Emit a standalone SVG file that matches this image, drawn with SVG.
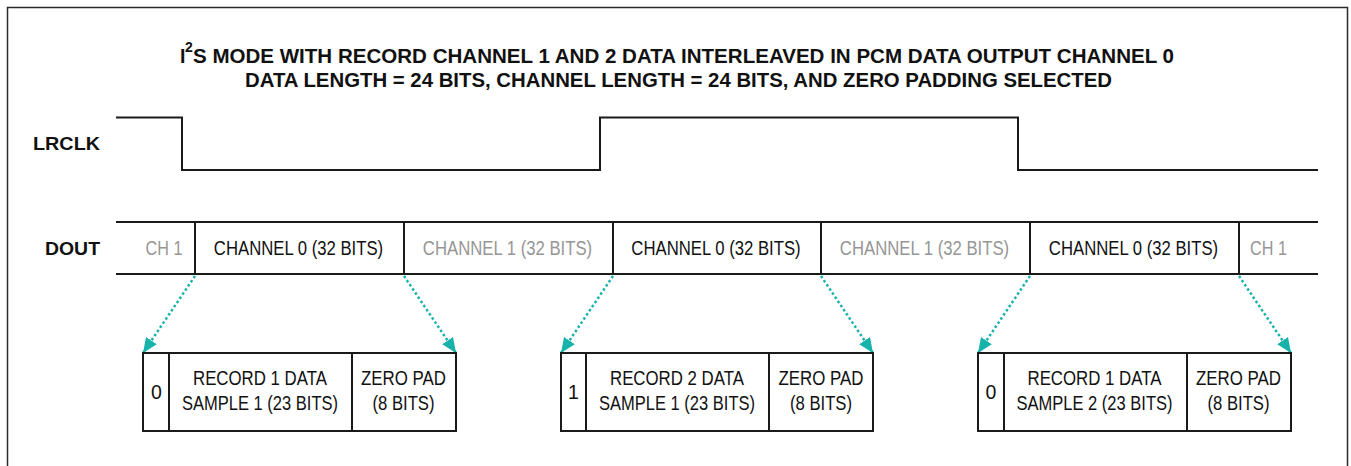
<svg xmlns="http://www.w3.org/2000/svg" width="1351" height="466" viewBox="0 0 1351 466">
<style>
.title{font-family:"Liberation Sans",Arial,sans-serif;font-weight:bold;font-size:19.5px;fill:#111}
.sig{font-family:"Liberation Sans",Arial,sans-serif;font-weight:bold;font-size:19px;fill:#111}
.t{font-family:"Liberation Sans",Arial,sans-serif;font-size:21px;fill:#111;text-anchor:middle}
.g{fill:#969696}
.b{font-family:"Liberation Sans",Arial,sans-serif;font-size:19.5px;fill:#111;text-anchor:middle}
.wave{fill:none;stroke:#1a1a1a;stroke-width:2}
.box{fill:#fff;stroke:#1a1a1a;stroke-width:2}
.arr{fill:none;stroke:#17b3aa;stroke-width:2.5;stroke-dasharray:2.5 2.5;marker-end:url(#ah)}
</style>
<defs>
<marker id="ah" markerUnits="userSpaceOnUse" markerWidth="16" markerHeight="14" refX="15" refY="6.5" orient="auto">
<path d="M0,0 L15,6.5 L0,13 Z" fill="#17b3aa"/>
</marker>
</defs>
<rect x="0" y="0" width="1351" height="466" fill="#fff"/>
<rect x="7.5" y="7.5" width="1340" height="520" fill="none" stroke="#2a2a2a" stroke-width="1.5"/>

<g id="title">
<text class="title" x="180" y="63">I</text>
<text class="title" x="185" y="52" style="font-size:14px">2</text>
<text class="title" x="193" y="63" textLength="981" lengthAdjust="spacingAndGlyphs">S MODE WITH RECORD CHANNEL 1 AND 2 DATA INTERLEAVED IN PCM DATA OUTPUT CHANNEL 0</text>
<text class="title" x="245" y="87" textLength="867" lengthAdjust="spacingAndGlyphs">DATA LENGTH = 24 BITS, CHANNEL LENGTH = 24 BITS, AND ZERO PADDING SELECTED</text>
</g>

<g id="lrclk">
<text class="sig" x="100" y="150" text-anchor="end" textLength="67" lengthAdjust="spacingAndGlyphs">LRCLK</text>
<path class="wave" d="M116,117.5 H182 V170 H600 V117.5 H1018 V170 H1318"/>
</g>

<g id="dout">
<text class="sig" x="100" y="255" text-anchor="end" textLength="55" lengthAdjust="spacingAndGlyphs">DOUT</text>
<path class="wave" d="M116,222 H1318 M116,274 H1318 M195,222 V274 M404,222 V274 M613,222 V274 M821,222 V274 M1030,222 V274 M1239,222 V274"/>
<text class="t g" transform="translate(164,255) scale(0.77,1)">CH 1</text>
<text class="t" transform="translate(298.5,255) scale(0.796,1)">CHANNEL 0 (32 BITS)</text>
<text class="t g" transform="translate(507.5,255) scale(0.796,1)">CHANNEL 1 (32 BITS)</text>
<text class="t" transform="translate(716,255) scale(0.796,1)">CHANNEL 0 (32 BITS)</text>
<text class="t g" transform="translate(924.5,255) scale(0.796,1)">CHANNEL 1 (32 BITS)</text>
<text class="t" transform="translate(1133.5,255) scale(0.796,1)">CHANNEL 0 (32 BITS)</text>
<text class="t g" transform="translate(1268.5,255) scale(0.77,1)">CH 1</text>
</g>

<g id="connectors">
<path class="arr" d="M195,276 L143,353"/>
<path class="arr" d="M404,276 L456,353"/>
<path class="arr" d="M613,276 L561,353"/>
<path class="arr" d="M821,276 L873,353"/>
<path class="arr" d="M1030,276 L978,353"/>
<path class="arr" d="M1239,276 L1291,353"/>
</g>

<g id="sample1">
<rect class="box" x="143" y="353" width="313" height="78"/>
<path class="wave" d="M169,353 V431 M352,353 V431"/>
<text class="b" x="156.5" y="399">0</text>
<text class="b" x="260" y="385" textLength="134" lengthAdjust="spacingAndGlyphs">RECORD 1 DATA</text>
<text class="b" x="260" y="410" textLength="156" lengthAdjust="spacingAndGlyphs">SAMPLE 1 (23 BITS)</text>
<text class="b" x="403.5" y="385" textLength="85" lengthAdjust="spacingAndGlyphs">ZERO PAD</text>
<text class="b" x="403.5" y="410" textLength="62" lengthAdjust="spacingAndGlyphs">(8 BITS)</text>
</g>

<g id="sample2">
<rect class="box" x="561" y="353" width="312" height="78"/>
<path class="wave" d="M586,353 V431 M769,353 V431"/>
<text class="b" x="573.5" y="399">1</text>
<text class="b" x="677" y="385" textLength="134" lengthAdjust="spacingAndGlyphs">RECORD 2 DATA</text>
<text class="b" x="677" y="410" textLength="156" lengthAdjust="spacingAndGlyphs">SAMPLE 1 (23 BITS)</text>
<text class="b" x="821" y="385" textLength="85" lengthAdjust="spacingAndGlyphs">ZERO PAD</text>
<text class="b" x="821" y="410" textLength="62" lengthAdjust="spacingAndGlyphs">(8 BITS)</text>
</g>

<g id="sample3">
<rect class="box" x="978" y="353" width="313" height="78"/>
<path class="wave" d="M1004,353 V431 M1187,353 V431"/>
<text class="b" x="991" y="399">0</text>
<text class="b" x="1094.5" y="385" textLength="134" lengthAdjust="spacingAndGlyphs">RECORD 1 DATA</text>
<text class="b" x="1094.5" y="410" textLength="156" lengthAdjust="spacingAndGlyphs">SAMPLE 2 (23 BITS)</text>
<text class="b" x="1238.5" y="385" textLength="85" lengthAdjust="spacingAndGlyphs">ZERO PAD</text>
<text class="b" x="1238.5" y="410" textLength="62" lengthAdjust="spacingAndGlyphs">(8 BITS)</text>
</g>
</svg>
